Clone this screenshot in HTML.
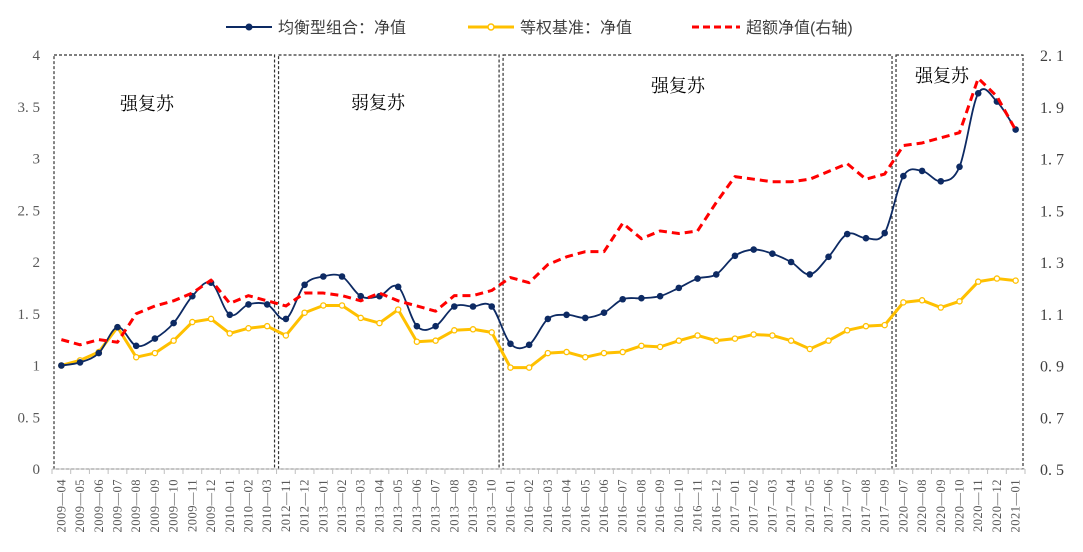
<!DOCTYPE html>
<html><head><meta charset="utf-8">
<style>
body{margin:0;background:#fff;}
svg{display:block;font-family:"Liberation Serif","Noto Serif CJK SC",serif;}
</style></head>
<body>
<svg id="chart" width="1083" height="552" viewBox="0 0 1083 552" xmlns="http://www.w3.org/2000/svg">
<g id="legend" font-family="Liberation Sans, Noto Sans CJK SC, sans-serif" font-size="16" fill="#404040">
 <g>
  <line x1="226" y1="27" x2="272" y2="27" stroke="#0d2a63" stroke-width="2"/>
  <circle cx="249" cy="27" r="3.5" fill="#0d2a63"/>
  <text x="278" y="33">均衡型组合：净值</text>
 </g>
 <g>
  <line x1="468" y1="27" x2="514" y2="27" stroke="#ffc000" stroke-width="3"/>
  <circle cx="491" cy="27" r="3" fill="#fff" stroke="#ffc000" stroke-width="1.5"/>
  <text x="520" y="33">等权基准：净值</text>
 </g>
 <g>
  <line x1="692" y1="27" x2="740" y2="27" stroke="#ff0000" stroke-width="3" stroke-dasharray="7,4"/>
  <text x="746" y="33">超额净值(右轴)</text>
 </g>
</g>
<g id="boxes"></g>
<g id="axes"></g>
<g id="series"></g>
</svg>
<script>
const categories=["2009-04","2009-05","2009-06","2009-07","2009-08","2009-09","2009-10","2009-11","2009-12","2010-01","2010-02","2010-03",
"2012-11","2012-12","2013-01","2013-02","2013-03","2013-04","2013-05","2013-06","2013-07","2013-08","2013-09","2013-10",
"2016-01","2016-02","2016-03","2016-04","2016-05","2016-06","2016-07","2016-08","2016-09","2016-10","2016-11","2016-12",
"2017-01","2017-02","2017-03","2017-04","2017-05","2017-06","2017-07","2017-08","2017-09",
"2020-07","2020-08","2020-09","2020-10","2020-11","2020-12","2021-01"];
const balanced=[1.0,1.03,1.12,1.37,1.19,1.26,1.41,1.67,1.80,1.49,1.59,1.59,
1.45,1.78,1.86,1.86,1.67,1.67,1.76,1.38,1.38,1.57,1.57,1.57,
1.21,1.20,1.45,1.49,1.46,1.51,1.64,1.65,1.67,1.75,1.84,1.88,
2.06,2.12,2.08,2.00,1.88,2.05,2.27,2.23,2.28,
2.83,2.88,2.78,2.92,3.63,3.55,3.28];
const benchmark=[1.0,1.05,1.13,1.37,1.08,1.12,1.24,1.42,1.45,1.31,1.36,1.38,
1.29,1.51,1.58,1.58,1.46,1.41,1.54,1.23,1.24,1.34,1.35,1.32,
0.98,0.98,1.12,1.13,1.08,1.12,1.13,1.19,1.18,1.24,1.29,1.24,
1.26,1.30,1.29,1.24,1.16,1.24,1.34,1.38,1.39,
1.61,1.63,1.56,1.62,1.81,1.84,1.82];
const excess=[1.0,0.98,1.0,0.99,1.10,1.13,1.15,1.18,1.23,1.14,1.17,1.15,
1.13,1.18,1.18,1.17,1.15,1.18,1.15,1.13,1.11,1.17,1.17,1.19,
1.24,1.22,1.29,1.32,1.34,1.34,1.45,1.39,1.42,1.41,1.42,1.53,
1.63,1.62,1.61,1.61,1.62,1.65,1.68,1.62,1.64,
1.75,1.76,1.78,1.80,2.01,1.94,1.81];
const leftTicks=["0","0. 5","1","1. 5","2","2. 5","3","3. 5","4"];
const leftTickVals=[0,0.5,1,1.5,2,2.5,3,3.5,4];
const rightTicks=["0. 5","0. 7","0. 9","1. 1","1. 3","1. 5","1. 7","1. 9","2. 1"];
const rightTickVals=[0.5,0.7,0.9,1.1,1.3,1.5,1.7,1.9,2.1];
const regimeLabels=["强复苏","弱复苏","强复苏","强复苏"];
const regimeStart=[0,12,24,45];
const regimeEnd=[11,23,44,51];

const NS="http://www.w3.org/2000/svg";
const X0=52,X1=1025,Y0=469,Y1=55;
const bw=(X1-X0)/categories.length;
const x=i=>X0+bw*(i+0.5);
const yL=v=>Y0-(v-0)/(4-0)*(Y0-Y1);
const yR=v=>Y0-(v-0.5)/(2.1-0.5)*(Y0-Y1);
function mk(tag,attrs,parent){const e=document.createElementNS(NS,tag);for(const k in attrs)e.setAttribute(k,attrs[k]);parent.appendChild(e);return e;}
const axes=document.getElementById('axes'),series=document.getElementById('series'),boxes=document.getElementById('boxes');

// regime boxes
const labelPos=[[147,110],[378,109],[678,92],[942,82]];
regimeStart.forEach((s,k)=>{
 const xa=X0+bw*s+2, xb=X0+bw*(regimeEnd[k]+1)-2;
 const r=mk('rect',{x:xa,y:Y1,width:xb-xa,height:Y0-Y1,fill:'none',stroke:'#333','stroke-width':1.2,'stroke-dasharray':'3,2'},boxes);
 
 
 const t=mk('text',{x:labelPos[k][0],y:labelPos[k][1],'text-anchor':'middle','font-size':18,fill:'#000','font-family':'Noto Serif CJK SC, serif'},boxes);
 t.textContent=regimeLabels[k];
 
 
});

// axes
const xl=mk('line',{x1:X0,y1:Y0,x2:X1,y2:Y0,stroke:'#bfbfbf','stroke-width':1},axes);


for(let i=0;i<=categories.length;i++){mk('line',{x1:X0+bw*i,y1:Y0,x2:X0+bw*i,y2:Y0+5,stroke:'#bfbfbf'},axes);}
categories.forEach((c,i)=>{
 const t=mk('text',{x:0,y:0,transform:`translate(${x(i)+4},${Y0+10}) rotate(-90)`,'text-anchor':'end','font-size':12.5,fill:'#595959','letter-spacing':'0.5'},axes);
 t.textContent=c.replace('-','—');
 
 
});
leftTicks.forEach((l,i)=>{
 const t=mk('text',{x:40,y:yL(leftTickVals[i])+5,'text-anchor':'end','font-size':15,fill:'#595959'},axes);
 t.textContent=l;
 
 
});
rightTicks.forEach((l,i)=>{
 const t=mk('text',{x:1040,y:yR(rightTickVals[i])+6,'text-anchor':'start','font-size':16,fill:'#404040'},axes);
 t.textContent=l;
 
 
});

// smooth path
function smooth(pts){let d=`M${pts[0][0]},${pts[0][1]}`;for(let i=0;i<pts.length-1;i++){const p0=pts[Math.max(0,i-1)],p1=pts[i],p2=pts[i+1],p3=pts[Math.min(pts.length-1,i+2)];const t=0.17;d+=` C${p1[0]+(p2[0]-p0[0])*t},${p1[1]+(p2[1]-p0[1])*t} ${p2[0]-(p3[0]-p1[0])*t},${p2[1]-(p3[1]-p1[1])*t} ${p2[0]},${p2[1]}`;}return d;}

// benchmark
const bp=benchmark.map((v,i)=>[x(i),yL(v)]);
const bl=mk('polyline',{points:bp.map(p=>p.join(',')).join(' '),fill:'none',stroke:'#ffc000','stroke-width':3,'stroke-linejoin':'round'},series);


bp.forEach(p=>{const c=mk('circle',{cx:p[0],cy:p[1],r:2.6,fill:'#fff',stroke:'#ffc000','stroke-width':1.3},series);
 
 });

// balanced
const pp=balanced.map((v,i)=>[x(i),yL(v)]);
const pl=mk('path',{d:smooth(pp),fill:'none',stroke:'#0d2a63','stroke-width':1.8},series);


pp.forEach(p=>{const c=mk('circle',{cx:p[0],cy:p[1],r:3.3,fill:'#0d2a63'},series);
 
 });

// excess
const ep=excess.map((v,i)=>[x(i),yR(v)]);
const el=mk('polyline',{points:ep.map(p=>p.join(',')).join(' '),fill:'none',stroke:'#ff0000','stroke-width':3,'stroke-dasharray':'8,5','stroke-linejoin':'round'},series);


</script>
</body></html>
